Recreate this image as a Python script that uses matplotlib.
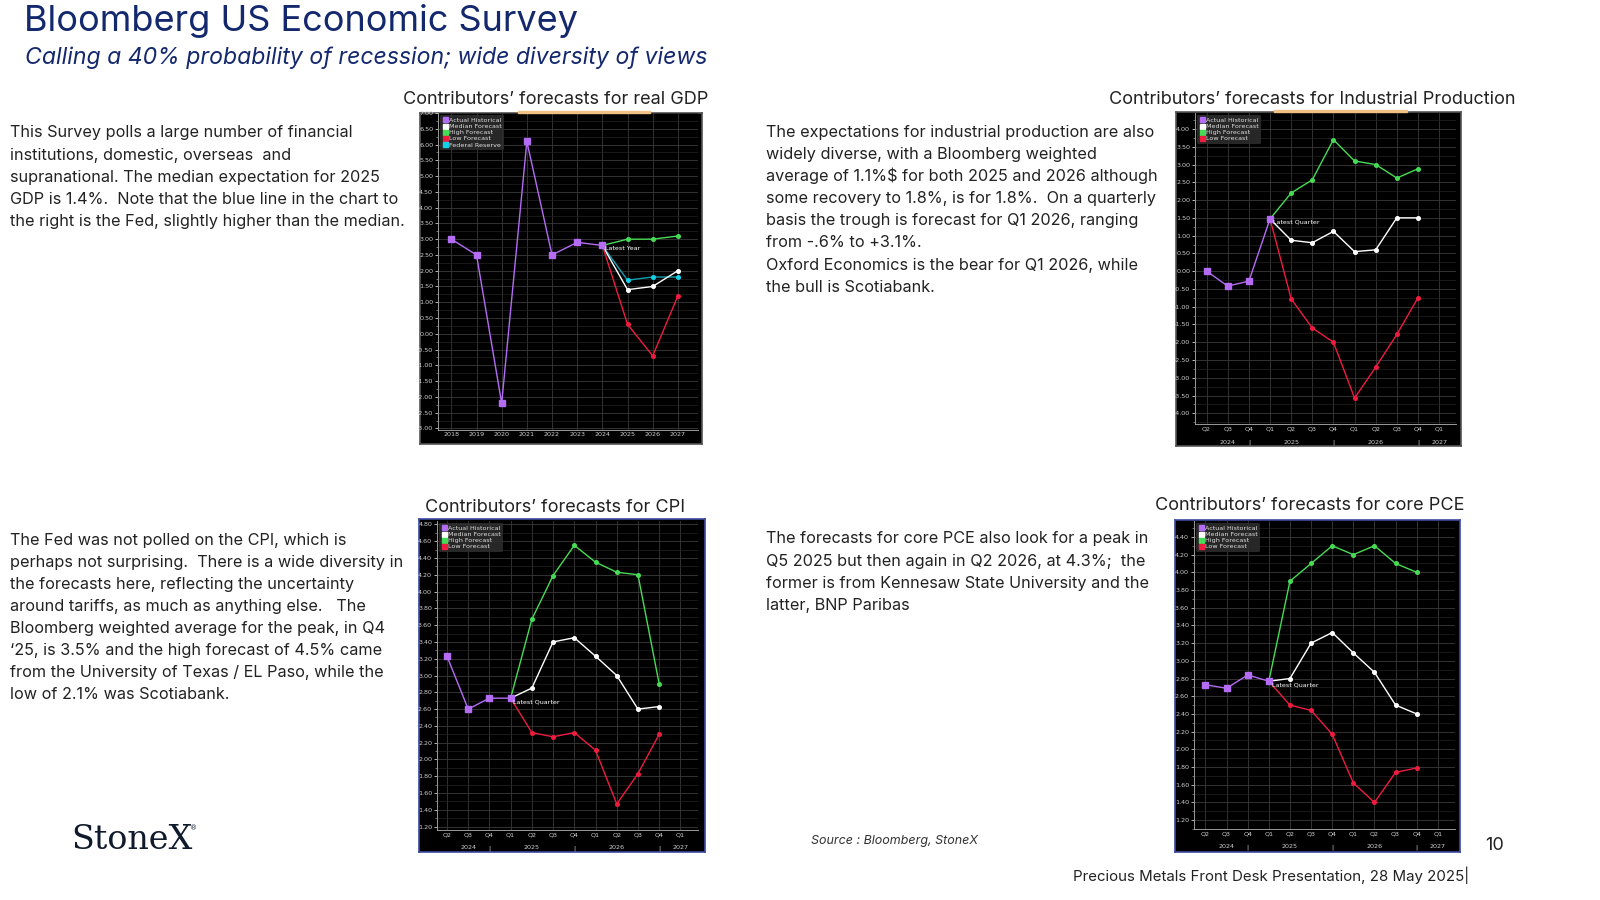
import matplotlib
matplotlib.use('Agg')
import matplotlib.pyplot as plt
import matplotlib.transforms as mtransforms
from matplotlib.lines import Line2D
from matplotlib.patches import Rectangle
from matplotlib.ticker import MultipleLocator, FuncFormatter

W, H = 1600, 900
plt.rcParams['font.family'] = ['Inter', 'DejaVu Sans']

# ---- data: real GDP (annual) ----
gdp_years = [2018, 2019, 2020, 2021, 2022, 2023, 2024, 2025, 2026, 2027]
gdp_actual = [3.0, 2.5, -2.2, 6.1, 2.5, 2.9, 2.8]
gdp_high = [2.8, 3.0, 3.0, 3.1]
gdp_median = [2.8, 1.4, 1.5, 2.0]
gdp_low = [2.8, 0.3, -0.7, 1.2]
gdp_fed = [2.8, 1.7, 1.8, 1.8]

# ---- quarterly axis (Q2 2024 .. Q1 2027) ----
quarters = ['Q2', 'Q3', 'Q4', 'Q1', 'Q2', 'Q3', 'Q4', 'Q1', 'Q2', 'Q3', 'Q4', 'Q1']
year_pos = [1, 2, 4, 6, 8, 10, 11]
year_labels = ['2024', '|', '2025', '|', '2026', '|', '2027']

# industrial production
ip_actual = [0.0, -0.42, -0.28, 1.47]
ip_high = [1.47, 2.2, 2.57, 3.7, 3.1, 3.0, 2.62, 2.88]
ip_median = [1.47, 0.87, 0.8, 1.12, 0.55, 0.6, 1.5, 1.5]
ip_low = [1.47, -0.78, -1.6, -2.0, -3.57, -2.7, -1.78, -0.75]

# CPI
cpi_actual = [3.23, 2.60, 2.73, 2.73]
cpi_high = [2.73, 3.67, 4.19, 4.55, 4.35, 4.23, 4.20, 2.90]
cpi_median = [2.73, 2.85, 3.40, 3.45, 3.23, 3.00, 2.60, 2.63]
cpi_low = [2.73, 2.32, 2.27, 2.32, 2.11, 1.47, 1.83, 2.30]

# core PCE
pce_actual = [2.73, 2.69, 2.84, 2.77]
pce_high = [2.77, 3.90, 4.10, 4.30, 4.20, 4.30, 4.10, 4.00]
pce_median = [2.77, 2.80, 3.20, 3.32, 3.09, 2.87, 2.50, 2.40]
pce_low = [2.77, 2.50, 2.44, 2.17, 1.62, 1.40, 1.74, 1.79]

PURPLE = '#b46cf5'
GREEN = '#46dc55'
RED = '#ee1c3f'
CYAN = '#12d2e8'
NAVY = '#14286e'
TXT = '#222222'

fig = plt.figure(figsize=(16, 9), dpi=100)


def fx(x):
    return x / W


def fy(y):
    return 1 - y / H


def panel(box, area, border, ylim, ymajor, yminor, xlim):
    x0, y0, x1, y1 = box
    bg = fig.add_axes([fx(x0), fy(y1), (x1 - x0) / W, (y1 - y0) / H])
    bg.set_facecolor('black')
    bg.set_xticks([])
    bg.set_yticks([])
    for s in bg.spines.values():
        s.set_color(border)
        s.set_linewidth(1.2)
    a0, b0, a1, b1 = area
    ax = fig.add_axes([fx(a0), fy(b1), (a1 - a0) / W, (b1 - b0) / H])
    ax.set_facecolor('black')
    ax.set_ylim(*ylim)
    ax.set_xlim(*xlim)
    ax.yaxis.set_major_locator(MultipleLocator(ymajor))
    ax.yaxis.set_minor_locator(MultipleLocator(yminor))
    ax.yaxis.set_major_formatter(FuncFormatter(lambda v, p: '%.2f' % v))
    ax.grid(True, which='major', color='#3a3a3a', lw=0.6)
    ax.grid(True, which='minor', axis='y', color='#222222', lw=0.5)
    ax.spines['top'].set_visible(False)
    ax.spines['right'].set_visible(False)
    ax.spines['left'].set_color('#9a9a9a')
    ax.spines['bottom'].set_color('#9a9a9a')
    ax.spines['left'].set_linewidth(0.7)
    ax.spines['bottom'].set_linewidth(0.7)
    ax.tick_params(axis='both', which='major', labelsize=4.6, colors='#cfcfcf',
                   length=2, width=0.6, pad=1.5)
    ax.tick_params(axis='y', which='minor', length=1.2, width=0.5, colors='#9a9a9a')
    ax.tick_params(axis='x', which='major', length=0)
    for lab in ax.get_yticklabels() + ax.get_xticklabels():
        lab.set_family('DejaVu Sans')
    return ax


def legend(ax, fed=False):
    names = ['Actual Historical', 'Median Forecast', 'High Forecast', 'Low Forecast']
    cols = [PURPLE, 'white', GREEN, RED]
    if fed:
        names.append('Federal Reserve')
        cols.append(CYAN)
    hs = [Line2D([], [], marker='s', ls='none', color=c, markersize=3.6) for c in cols]
    lg = ax.legend(hs, names, loc='upper left', fontsize=4.6, frameon=True,
                   facecolor='#2e2e2e', edgecolor='none', framealpha=0.85,
                   labelcolor='#dddddd', handlelength=0.8, handletextpad=0.3,
                   borderpad=0.35, labelspacing=0.12, borderaxespad=0.3,
                   prop={'family': 'DejaVu Sans', 'size': 4.6})
    lg.set_zorder(10)


def quarter_axis(ax):
    ax.set_xticks(range(len(quarters)))
    ax.set_xticklabels(quarters)
    tr = mtransforms.blended_transform_factory(ax.transData, ax.transAxes)
    for p, t in zip(year_pos, year_labels):
        ax.text(p, -0.058, t, transform=tr, ha='center', va='center',
                fontsize=4.6, color='#cfcfcf', family='DejaVu Sans')


def series(ax, x, y, col, lw=1.0, ms=2.6, mk='o', z=3, lc=None):
    ax.plot(x, y, color=lc or col, lw=lw, marker=mk, markersize=ms,
            markerfacecolor=col, markeredgecolor=col, zorder=z)


# ---------------- GDP ----------------
ax = panel((420, 113, 702, 444), (438, 113, 698, 430), '#555555',
           (-3.05, 7.0), 0.5, 0.25, (2017.47, 2027.8))
ax.set_xticks(gdp_years)
ax.set_xticklabels([str(y) for y in gdp_years])
fx_years = gdp_years[6:]
series(ax, fx_years, gdp_high, GREEN)
series(ax, fx_years, gdp_fed, CYAN, lc='#13a0b2')
series(ax, fx_years, gdp_median, 'white')
series(ax, fx_years, gdp_low, RED)
series(ax, gdp_years[:7], gdp_actual, PURPLE, ms=4.6, mk='s', z=5)
ax.annotate('Latest Year', (2024, 2.8), xytext=(2, -3.5), textcoords='offset points',
            fontsize=4.6, color='white', family='DejaVu Sans', zorder=6)
legend(ax, fed=True)

# ---------------- Industrial production ----------------
ax = panel((1176, 112, 1461, 446), (1195, 113, 1456, 424), '#555555',
           (-4.3, 4.45), 0.5, 0.25, (-0.55, 11.8))
quarter_axis(ax)
qf = list(range(3, 11))
series(ax, qf, ip_high, GREEN)
series(ax, qf, ip_median, 'white')
series(ax, qf, ip_low, RED)
series(ax, range(4), ip_actual, PURPLE, ms=4.6, mk='s', z=5)
ax.annotate('Latest Quarter', (3, 1.47), xytext=(2, -3.5), textcoords='offset points',
            fontsize=4.6, color='white', family='DejaVu Sans', zorder=6)
legend(ax)

# ---------------- CPI ----------------
ax = panel((419, 519, 705, 852), (437, 521, 698, 830), '#3b4aa0',
           (1.16, 4.84), 0.2, 0.1, (-0.47, 11.83))
quarter_axis(ax)
series(ax, qf, cpi_high, GREEN)
series(ax, qf, cpi_median, 'white')
series(ax, qf, cpi_low, RED)
series(ax, range(4), cpi_actual, PURPLE, ms=4.6, mk='s', z=5)
ax.annotate('Latest Quarter', (3, 2.73), xytext=(2, -3.5), textcoords='offset points',
            fontsize=4.6, color='white', family='DejaVu Sans', zorder=6)
legend(ax)

# ---------------- core PCE ----------------
ax = panel((1175, 520, 1460, 852), (1194, 521, 1455, 829), '#3b4aa0',
           (1.1, 4.58), 0.2, 0.1, (-0.54, 11.81))
quarter_axis(ax)
series(ax, qf, pce_high, GREEN)
series(ax, qf, pce_median, 'white')
series(ax, qf, pce_low, RED)
series(ax, range(4), pce_actual, PURPLE, ms=4.6, mk='s', z=5)
ax.annotate('Latest Quarter', (3, 2.77), xytext=(2, -3.5), textcoords='offset points',
            fontsize=4.6, color='white', family='DejaVu Sans', zorder=6)
legend(ax)

# thin orange strips left over from the bloomberg title bar
for x0, x1, y0 in [(518, 650, 111), (1274, 1407, 110)]:
    fig.patches.append(Rectangle((fx(x0), fy(y0 + 1.5)), (x1 - x0) / W, 1.5 / H,
                                 transform=fig.transFigure, color='#f0c084'))

# ---------------- slide text ----------------
fig.text(fx(24), fy(21), 'Bloomberg US Economic Survey', fontsize=26, color=NAVY,
         va='center', ha='left')
fig.text(fx(25), fy(58), 'Calling a 40% probability of recession; wide diversity of views',
         fontsize=16.6, color=NAVY, va='center', ha='left', style='italic')

fig.text(fx(556), fy(100), 'Contributors\u2019 forecasts for real GDP', fontsize=13,
         color=TXT, ha='center', va='center')
fig.text(fx(1312), fy(100), 'Contributors\u2019 forecasts for Industrial Production',
         fontsize=13, color=TXT, ha='center', va='center')
fig.text(fx(555), fy(507), 'Contributors\u2019 forecasts for CPI', fontsize=13,
         color=TXT, ha='center', va='center')
fig.text(fx(1310), fy(506), 'Contributors\u2019 forecasts for core PCE', fontsize=13,
         color=TXT, ha='center', va='center')


def para(x, y, lines, dy=22.1):
    for i, ln in enumerate(lines):
        fig.text(fx(x), fy(y + i * dy), ln, fontsize=11.7, color=TXT, va='center', ha='left')


para(10, 133, [
    'This Survey polls a large number of financial',
    'institutions, domestic, overseas  and',
    'supranational. The median expectation for 2025',
    'GDP is 1.4%.  Note that the blue line in the chart to',
    'the right is the Fed, slightly higher than the median.',
])
para(766, 132, [
    'The expectations for industrial production are also',
    'widely diverse, with a Bloomberg weighted',
    r'average of 1.1%\$ for both 2025 and 2026 although',
    'some recovery to 1.8%, is for 1.8%.  On a quarterly',
    'basis the trough is forecast for Q1 2026, ranging',
    'from -.6% to +3.1%.',
])
para(766, 265, [
    'Oxford Economics is the bear for Q1 2026, while',
    'the bull is Scotiabank.',
])
para(10, 540, [
    'The Fed was not polled on the CPI, which is',
    'perhaps not surprising.  There is a wide diversity in',
    'the forecasts here, reflecting the uncertainty',
    'around tariffs, as much as anything else.   The',
    'Bloomberg weighted average for the peak, in Q4',
    '\u201825, is 3.5% and the high forecast of 4.5% came',
    'from the University of Texas / EL Paso, while the',
    'low of 2.1% was Scotiabank.',
])
para(766, 539, [
    'The forecasts for core PCE also look for a peak in',
    'Q5 2025 but then again in Q2 2026, at 4.3%;  the',
    'former is from Kennesaw State University and the',
    'latter, BNP Paribas',
])

fig.text(fx(71), fy(840), 'StoneX', fontsize=24, family='DejaVu Serif',
         color='#0f1a2c', va='center', ha='left')
fig.text(fx(190), fy(828), '\u00ae', fontsize=5, family='DejaVu Sans',
         color='#0f1a2c', va='center', ha='left')
fig.text(fx(811), fy(841), 'Source : Bloomberg, StoneX', fontsize=9, style='italic',
         color='#333333', va='center', ha='left')
fig.text(fx(1485), fy(845), '10', fontsize=13, color=TXT, va='center', ha='left')
fig.text(fx(1469), fy(875), 'Precious Metals Front Desk Presentation, 28 May 2025|',
         fontsize=10.8, color=TXT, va='center', ha='right')

fig.savefig('out.png', dpi=100, facecolor='white')
